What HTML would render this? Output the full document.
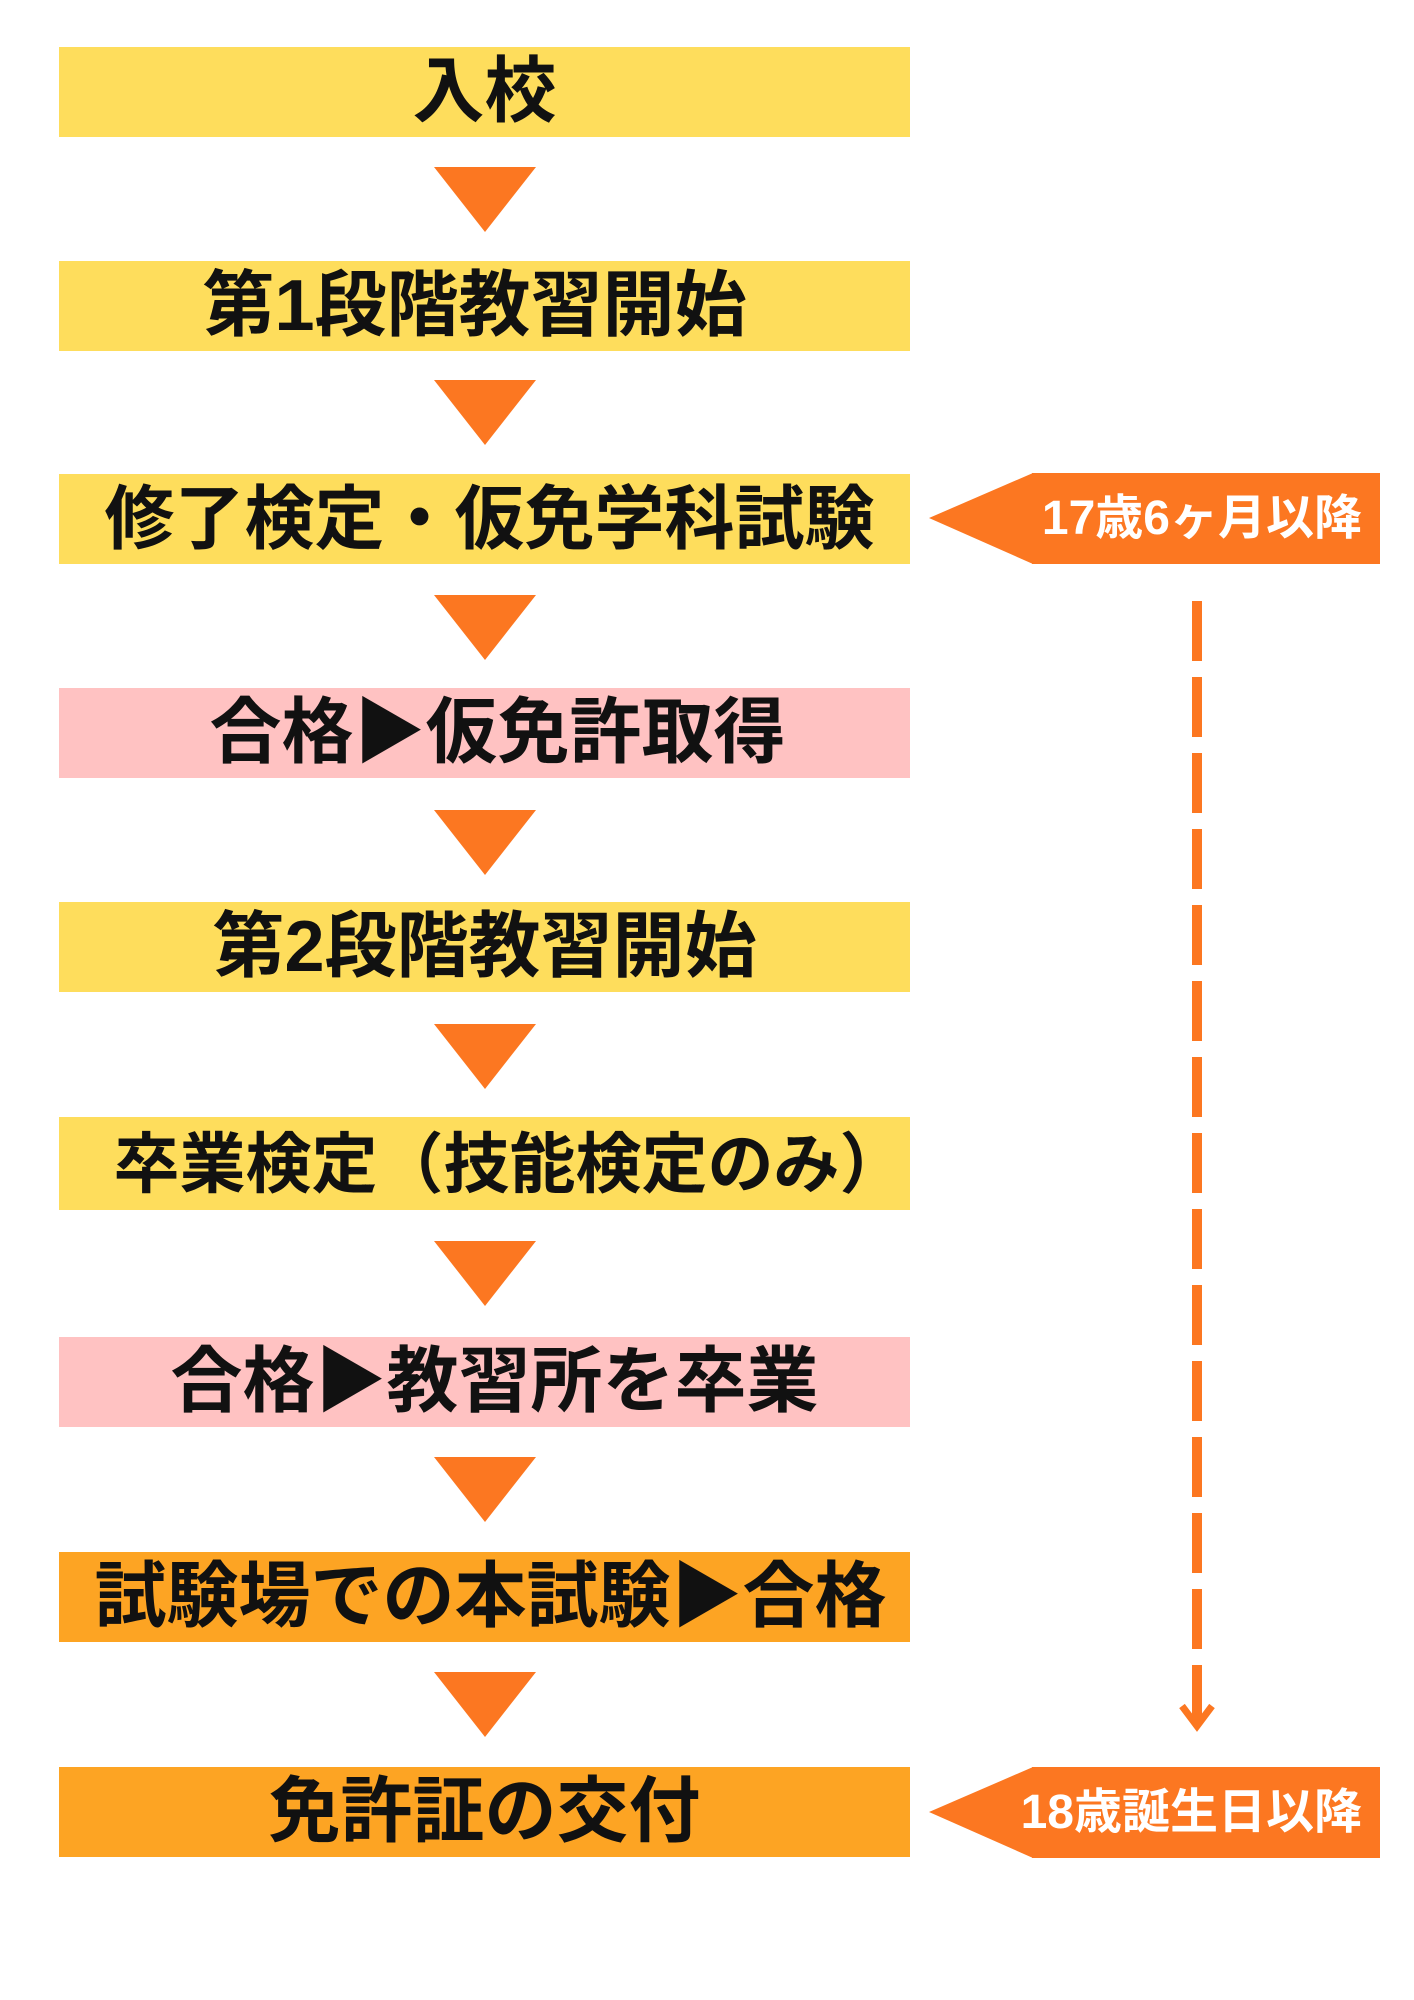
<!DOCTYPE html>
<html><head><meta charset="utf-8"><style>
html,body{margin:0;padding:0;background:#fff;}
body{width:1414px;height:2000px;position:relative;overflow:hidden;font-family:"Liberation Sans","Noto Sans CJK JP",sans-serif;}
.b{position:absolute;left:59px;width:851px;height:90px;display:flex;align-items:center;justify-content:center;font-weight:700;font-size:72px;color:#111;line-height:1;white-space:nowrap;box-sizing:border-box;}
.y{background:#FEDD5C}.p{background:#FFC2C2}.o{background:#FDA423}
.t{position:absolute;left:1032px;width:348px;height:91px;background:#FC7721;color:#fff;font-weight:700;font-size:48px;display:flex;align-items:center;justify-content:flex-end;padding-right:18px;box-sizing:border-box;line-height:1;white-space:nowrap;}
svg{position:absolute;left:0;top:0}
</style></head><body>
<svg width="1414" height="2000">
<g fill="#FC7721">
<polygon points="434,167 536,167 485,232"/>
<polygon points="434,380 536,380 485,445"/>
<polygon points="434,595 536,595 485,660"/>
<polygon points="434,810 536,810 485,875"/>
<polygon points="434,1024 536,1024 485,1089"/>
<polygon points="434,1241 536,1241 485,1306"/>
<polygon points="434,1457 536,1457 485,1522"/>
<polygon points="434,1672 536,1672 485,1737"/>
<polygon points="929,518 1033,473 1033,564"/>
<polygon points="929,1812 1033,1767 1033,1858"/>
</g>
<line x1="1197" y1="601" x2="1197" y2="1725" stroke="#FC7721" stroke-width="10" stroke-dasharray="60 16"/>
<polyline points="1182,1706 1197,1726 1212,1706" fill="none" stroke="#FC7721" stroke-width="7"/>
</svg>
<div class="b y" style="top:47px">入校</div>
<div class="b y" style="top:261px;padding-right:20px">第1段階教習開始</div>
<div class="b y" style="top:474px;font-size:70px;padding-left:10px">修了検定・仮免学科試験</div>
<div class="b p" style="top:688px;padding-left:26px">合格▶仮免許取得</div>
<div class="b y" style="top:902px">第2段階教習開始</div>
<div class="b y" style="top:1117px;height:93px;font-size:66px;padding-left:50px">卒業検定（技能検定のみ）</div>
<div class="b p" style="top:1337px;padding-left:20px">合格▶教習所を卒業</div>
<div class="b o" style="top:1552px;padding-left:12px">試験場での本試験▶合格</div>
<div class="b o" style="top:1767px">免許証の交付</div>
<div class="t" style="top:473px">17歳6ヶ月以降</div>
<div class="t" style="top:1767px">18歳誕生日以降</div>
</body></html>
